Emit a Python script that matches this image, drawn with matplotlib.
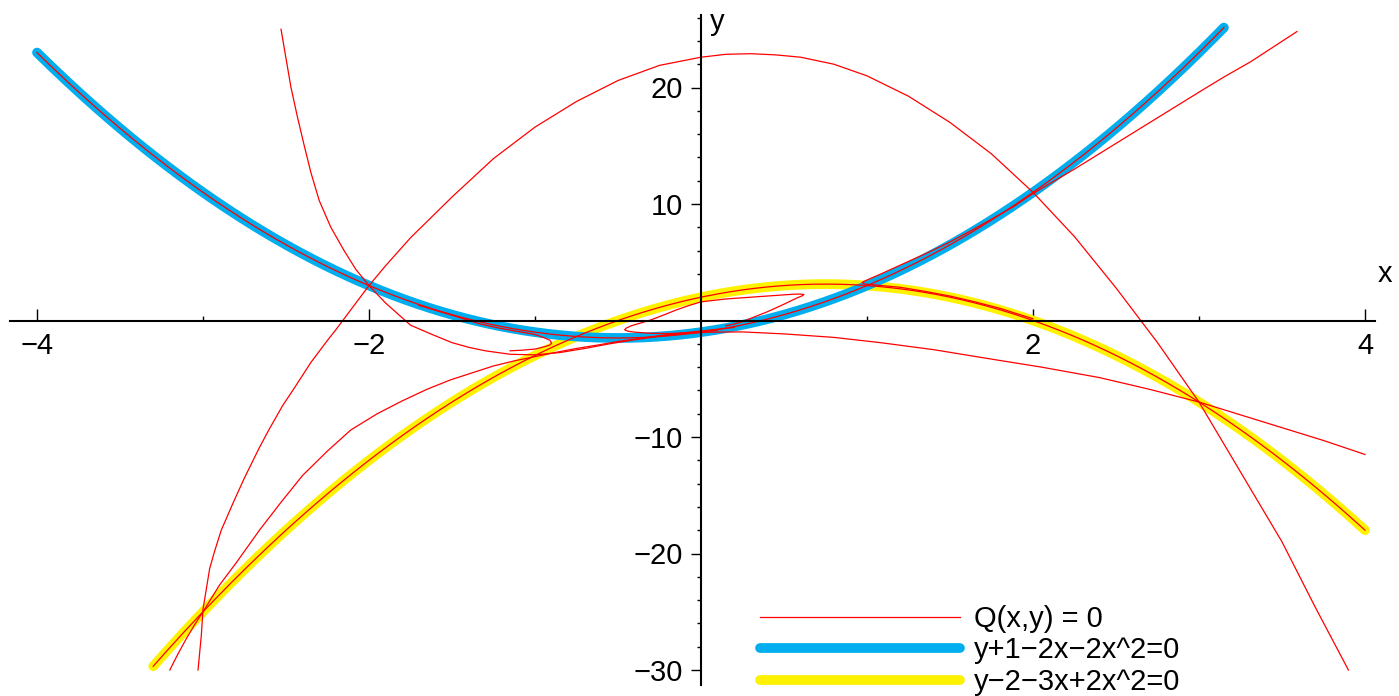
import numpy as np
import matplotlib
matplotlib.use("Agg")
from matplotlib import pyplot as plt

plt.rcParams['font.family'] = ['Liberation Sans', 'DejaVu Sans']

# parabolas given in the legend: y = a*x^2 + b*x + c
blue_coef = [2, 2, -1]      # y+1-2x-2x^2=0
blue_xrange = [-4.0, 3.15]
yellow_coef = [-2, 3, 2]    # y-2-3x+2x^2=0
yellow_xrange = [-3.3, 4.0]

# branches of Q(x,y) = 0
arch_x = [-3.03, -3.01, -3.0, -2.96, -2.93, -2.89, -2.82, -2.75, -2.66, -2.6, -2.52, -2.45,
          -2.35, -2.25, -2.2, -2.1, -2.0, -1.9, -1.75, -1.5, -1.25, -1.0, -0.75, -0.5,
          -0.25, 0.0, 0.15, 0.3, 0.45, 0.6, 0.8, 1.0, 1.25, 1.5, 1.75, 2.0, 2.25, 2.5,
          2.75, 3.0, 3.25, 3.5, 3.7, 3.9]
arch_y = [-30.0, -27.0, -24.8, -21.3, -19.8, -18.0, -15.7, -13.5, -10.9, -9.3, -7.3, -5.8,
          -3.6, -1.7, -0.8, 1.1, 3.0, 4.7, 7.1, 10.6, 13.9, 16.6, 18.8, 20.6,
          21.9, 22.6, 22.85, 22.9, 22.8, 22.6, 22.0, 21.0, 19.25, 17.0, 14.3, 11.0, 7.2, 2.8,
          -1.9, -7.0, -13.0, -19.0, -24.6, -30.0]

steep_x = [-2.53, -2.5, -2.47, -2.43, -2.39, -2.35, -2.3, -2.23, -2.15, -2.08, -2.0, -1.9,
           -1.75, -1.62, -1.5, -1.4, -1.3, -1.15, -1.0, -0.85, -0.7, -0.55, -0.4, -0.25,
           -0.1, 0.05, 0.25, 0.5, 0.8, 1.08, 1.4, 1.7, 2.05, 2.4, 2.7, 3.0, 3.25, 3.5,
           3.75, 4.0]
steep_y = [25.0, 22.5, 20.0, 17.4, 15.0, 12.7, 10.3, 8.0, 6.0, 4.4, 3.0, 1.5,
           -0.4, -1.2, -1.9, -2.3, -2.6, -2.9, -2.95, -2.75, -2.4, -2.0, -1.65, -1.35,
           -1.12, -1.0, -0.98, -1.15, -1.45, -1.9, -2.5, -3.2, -4.0, -4.9, -5.9, -7.0, -8.1,
           -9.2, -10.3, -11.5]

low_x = [-3.2, -3.15, -3.1, -3.05, -3.0, -2.9, -2.8, -2.66, -2.53, -2.4, -2.25, -2.11,
         -1.95, -1.8, -1.65, -1.51, -1.38, -1.25, -1.12, -1.0, -0.88, -0.75, -0.62, -0.5,
         -0.35, -0.2, -0.1, 0.0, 0.1, 0.2]
low_y = [-30.0, -28.6, -27.3, -26.1, -25.0, -22.7, -20.8, -18.0, -15.6, -13.3, -11.2, -9.4,
         -8.0, -6.9, -5.9, -5.1, -4.5, -3.9, -3.45, -3.1, -2.75, -2.4, -2.1, -1.8,
         -1.5, -1.2, -1.05, -0.9, -0.75, -0.6]

line_x = [3.59, 3.45, 3.31, 3.15, 3.0, 2.75, 2.5, 2.25, 2.0, 1.88, 1.75, 1.6, 1.48, 1.34,
          1.2, 1.1, 1.02, 0.98, 0.97, 0.99, 1.05, 1.2, 1.35, 1.5, 1.65, 1.8, 1.9, 2.0]
line_y = [24.8, 23.5, 22.2, 20.9, 19.6, 17.4, 15.2, 13.0, 10.9, 9.75, 8.7, 7.5, 6.6, 5.65,
          4.75, 4.1, 3.6, 3.35, 3.25, 3.12, 3.05, 2.85, 2.5, 2.1, 1.6, 1.05, 0.6, 0.15]

loop1_x = [0.1, 0.0, -0.1, -0.2, -0.3, -0.4, -0.44, -0.46, -0.45, -0.42, -0.36, -0.3,
           -0.22, -0.15, -0.07, 0.0, 0.15, 0.3, 0.45, 0.55, 0.6, 0.62, 0.61, 0.58, 0.5,
           0.4, 0.32, 0.25, 0.2, 0.15]
loop1_y = [-0.85, -1.0, -1.07, -1.12, -1.1, -1.0, -0.92, -0.8, -0.65, -0.45, -0.2, 0.06,
           0.5, 0.9, 1.3, 1.6, 1.85, 2.0, 2.15, 2.25, 2.27, 2.22, 2.12, 1.95, 1.4,
           0.75, 0.3, -0.1, -0.3, -0.45]

loop2_x = [-1.7, -1.5, -1.33, -1.2, -1.1, -1.0, -0.95, -0.91, -0.9, -0.91, -0.93, -0.97,
           -1.0, -1.08, -1.15]
loop2_y = [1.3, 0.45, -0.3, -0.7, -0.95, -1.2, -1.45, -1.7, -1.95, -2.1, -2.2, -2.35,
           -2.45, -2.55, -2.6]

x_major = [-4, -2, 2, 4]
x_minor = [-3, -1, 1, 3]
y_major = [-30, -20, -10, 10, 20]
y_minor = [v for v in range(-28, 27, 2) if v % 10 != 0]

legend_labels = ["Q(x,y) = 0", "y+1\u22122x\u22122x^2=0", "y\u22122\u22123x+2x^2=0"]

RED = "#ff0000"
BLUE = "#00aeef"
YELLOW = "#fff200"

fig = plt.figure(figsize=(13.99, 6.96), dpi=100)
ax = fig.add_axes([0, 0, 1, 1])
ax.set_xlim(-701 / 166, (1399 - 701) / 166)
ax.set_ylim(-(696 - 320.5) / 11.65, 320.5 / 11.65)

xb = np.linspace(blue_xrange[0], blue_xrange[1], 400)
yb = np.polyval(blue_coef, xb)
xy = np.linspace(yellow_xrange[0], yellow_xrange[1], 400)
yy = np.polyval(yellow_coef, xy)

hy, = ax.plot(xy, yy, color=YELLOW, lw=7, solid_capstyle='round', label=legend_labels[2])
hb, = ax.plot(xb, yb, color=BLUE, lw=7, solid_capstyle='round', label=legend_labels[1])

red_kw = dict(color=RED, lw=0.9, solid_joinstyle='round')
hr, = ax.plot(xb, yb, label=legend_labels[0], **red_kw)
ax.plot(xy, yy, **red_kw)
for bx, by in [(arch_x, arch_y), (steep_x, steep_y), (low_x, low_y), (line_x, line_y),
               (loop1_x, loop1_y), (loop2_x, loop2_y)]:
    ax.plot(bx, by, **red_kw)

# axes through the origin
for side in ['top', 'right']:
    ax.spines[side].set_visible(False)
ax.spines['left'].set_position(('data', 0))
ax.spines['bottom'].set_position(('data', 0))
ax.spines['left'].set_bounds(-31.3, 26.2)
ax.spines['bottom'].set_bounds(-4.16, 4.06)
for side in ['left', 'bottom']:
    ax.spines[side].set_linewidth(1.5)

ax.set_xticks(x_major)
ax.set_xticks(x_minor, minor=True)
ax.set_yticks(y_major)
ax.set_yticks(y_minor, minor=True)
ax.tick_params(axis='x', which='major', direction='in', length=8.6, width=1.0,
               labelsize=21, pad=8)
ax.tick_params(axis='x', which='minor', direction='in', length=3.6, width=1.0)
ax.tick_params(axis='y', which='major', direction='out', length=7.2, width=1.0,
               labelsize=21, pad=6)
ax.tick_params(axis='y', which='minor', direction='out', length=3.2, width=1.0)

ax.text(4.12, 4.0, "x", fontsize=21, ha='center', va='center')
ax.text(0.10, 25.6, "y", fontsize=21, ha='center', va='center')

ax.legend(handles=[hr, hb, hy], loc='lower left', bbox_to_anchor=(760 / 1399, 0.0),
          frameon=False, fontsize=21, handlelength=6.85, handletextpad=0.5,
          labelspacing=0.12, borderpad=0, borderaxespad=0)

fig.savefig("out.png", dpi=100)
